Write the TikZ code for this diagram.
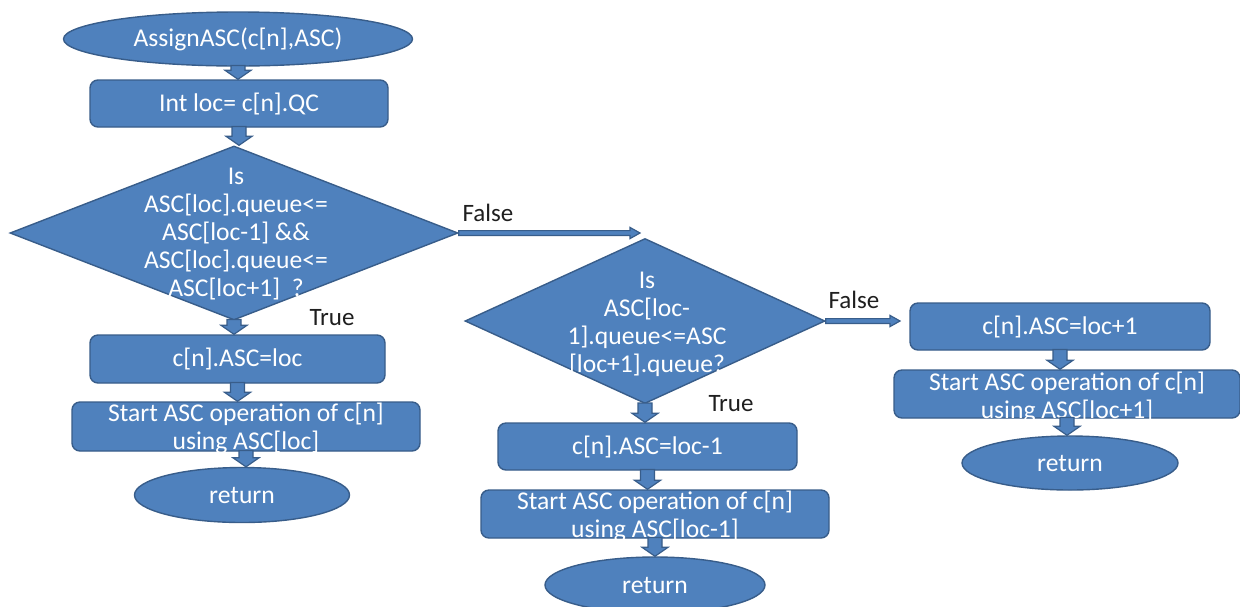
\documentclass[tikz,border=0pt]{standalone}
\usepackage{fontspec}
\setmainfont{Carlito}
\usetikzlibrary{shapes.geometric,calc}
\definecolor{flowfill}{HTML}{4F81BD}
\definecolor{flowline}{HTML}{385D8A}
\tikzset{
  flowfont/.style={font=\fontsize{12.8}{14}\selectfont},
  labelfont/.style={font=\fontsize{12.5}{14}\selectfont},
  base/.style={fill=flowfill, draw=flowline, line width=0.7pt, text=white, flowfont, inner sep=0pt},
  terminal/.style={base, ellipse},
  procbox/.style={base, rectangle, rounded corners=4pt},
  decision/.style={base, diamond},
  inbox/.style={text=white, flowfont, align=center, inner sep=0pt},
  branchlabel/.style={text=black!88, labelfont, inner sep=0pt},
  arrowbody/.style={fill=flowfill, draw=flowline, line width=0.6pt, line join=miter},
}
% fat downward block arrow from the bottom of #1 to the top of #2
\newcommand\flowdown[2]{%
  \path[arrowbody] let \p1=(#1.south), \p2=(#2.north) in
    (\x1-3.5pt,\y1+0.6pt) -- (\x1-3.5pt,\y2+4.5pt) -- (\x1-6.5pt,\y2+4.5pt) --
    (\x1,\y2) -- (\x1+6.5pt,\y2+4.5pt) -- (\x1+3.5pt,\y2+4.5pt) --
    (\x1+3.5pt,\y1+0.6pt) -- cycle;}
% thin rightward block arrow from #1 to #2
\newcommand\flowright[2]{%
  \path[arrowbody] let \p1=(#1), \p2=(#2) in
    (\x1,\y1-1.2pt) -- (\x2-5pt,\y1-1.2pt) -- (\x2-5pt,\y1-2.8pt) --
    (\x2,\y1) -- (\x2-5pt,\y1+2.8pt) -- (\x2-5pt,\y1+1.2pt) --
    (\x1,\y1+1.2pt) -- cycle;}
\begin{document}
\begin{tikzpicture}[x=0.5pt, y=-0.5pt]
\useasboundingbox (0,0) rectangle (1240,606);
\fill[white] (0,0) rectangle (1240,606);
\clip (0,0) rectangle (1240,606);

% left column
\node[terminal, minimum width=174.5pt, minimum height=27pt] (start) at (238,39) {AssignASC(c[n],ASC)};
\node[procbox, minimum width=149pt, minimum height=23.5pt] (init) at (239,103.5) {Int loc= c[n].QC};
\node[decision, minimum width=224pt, minimum height=87pt] (d1) at (234,233) {};
\node[inbox] (d1t) at (236,234) {Is\\ASC[loc].queue<=\\ASC[loc-1] \&\&\\ASC[loc].queue<=\\ASC[loc+1]\ \ ?};
\node[procbox, minimum width=147.5pt, minimum height=24pt] (setA) at (237.5,359) {c[n].ASC=loc};
\node[procbox, minimum width=174pt, minimum height=24.5pt] (runA) at (246,426.5) {};
\node[inbox] (runAt) at (246,428) {Start ASC operation of c[n]\\using ASC[loc]};
\node[terminal, minimum width=107.5pt, minimum height=27.5pt] (retA) at (242,495) {return};

% middle column
\node[decision, minimum width=180pt, minimum height=82.5pt] (d2) at (645,321) {};
\node[inbox] (d2t) at (647,324) {Is\\ASC[loc-\\1].queue<=ASC\\{}[loc+1].queue?};
\node[procbox, minimum width=149.5pt, minimum height=23.5pt] (setB) at (647.5,446.5) {c[n].ASC=loc-1};
\node[procbox, minimum width=174pt, minimum height=24pt] (runB) at (655,514) {};
\node[inbox] (runBt) at (655,516) {Start ASC operation of c[n]\\using ASC[loc-1]};
\node[terminal, minimum width=110pt, minimum height=28pt] (retB) at (655,585) {return};

% right column
\node[procbox, minimum width=150pt, minimum height=23.5pt] (setC) at (1060,326.5) {c[n].ASC=loc+1};
\node[procbox, minimum width=173pt, minimum height=24pt] (runC) at (1067,394) {};
\node[inbox] (runCt) at (1067,397) {Start ASC operation of c[n]\\using ASC[loc+1]};
\node[terminal, minimum width=108pt, minimum height=27pt] (retC) at (1070,463) {return};

% free ends of the two False branches
\coordinate (f1end) at (640,233);
\coordinate (f2end) at (900,322);

% connectors
\flowdown{start}{init}
\flowdown{init}{d1}
\flowdown{d1}{setA}
\flowdown{setA}{runA}
\flowdown{runA}{retA}
\flowdown{d2}{setB}
\flowdown{setB}{runB}
\flowdown{runB}{retB}
\flowdown{setC}{runC}
\flowdown{runC}{retC}
\flowright{d1.east}{f1end}
\flowright{d2.east}{f2end}

% branch labels
\node[branchlabel] (lt1) at (332,318) {True};
\node[branchlabel] (lf1) at (488,213) {False};
\node[branchlabel] (lt2) at (731,404) {True};
\node[branchlabel] (lf2) at (854,300) {False};
\end{tikzpicture}
\end{document}
